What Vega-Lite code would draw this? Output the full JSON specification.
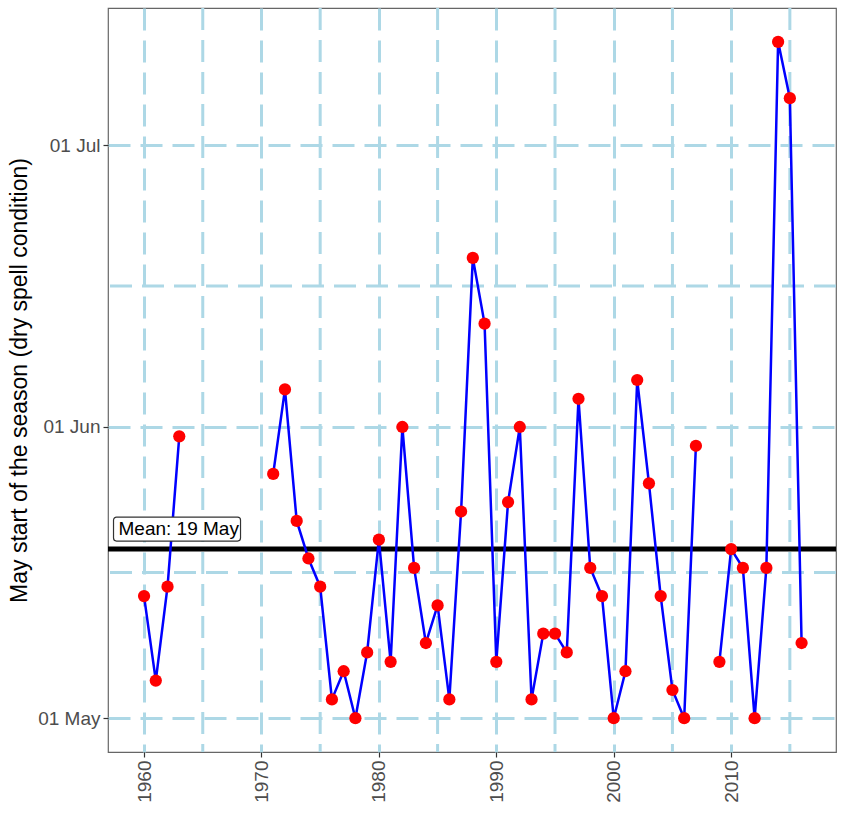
{
  "$schema": "https://vega.github.io/schema/vega-lite/v6.json",
  "width": 728,
  "height": 744,
  "autosize": "none",
  "padding": {"left": 108, "top": 8, "right": 6, "bottom": 69},
  "background": "white",
  "config": {
    "font": "Liberation Sans",
    "view": {"stroke": "#666666", "strokeWidth": 1.2},
    "axis": {
      "labelFont": "Liberation Sans",
      "titleFont": "Liberation Sans",
      "labelColor": "#4D4D4D",
      "labelFontSize": 19,
      "tickColor": "#333333",
      "tickSize": 5,
      "tickWidth": 1.2,
      "domain": false,
      "grid": true,
      "gridColor": "#ADD8E6",
      "gridWidth": 3,
      "gridDash": [22, 10],
      "gridOpacity": 1
    }
  },
  "datasets": {
    "season": [
      {"year": 1960, "start": "2001-05-14"},
      {"year": 1961, "start": "2001-05-05"},
      {"year": 1962, "start": "2001-05-15"},
      {"year": 1963, "start": "2001-05-31"},
      {"year": 1964, "start": null},
      {"year": 1970, "start": null},
      {"year": 1971, "start": "2001-05-27"},
      {"year": 1972, "start": "2001-06-05"},
      {"year": 1973, "start": "2001-05-22"},
      {"year": 1974, "start": "2001-05-18"},
      {"year": 1975, "start": "2001-05-15"},
      {"year": 1976, "start": "2001-05-03"},
      {"year": 1977, "start": "2001-05-06"},
      {"year": 1978, "start": "2001-05-01"},
      {"year": 1979, "start": "2001-05-08"},
      {"year": 1980, "start": "2001-05-20"},
      {"year": 1981, "start": "2001-05-07"},
      {"year": 1982, "start": "2001-06-01"},
      {"year": 1983, "start": "2001-05-17"},
      {"year": 1984, "start": "2001-05-09"},
      {"year": 1985, "start": "2001-05-13"},
      {"year": 1986, "start": "2001-05-03"},
      {"year": 1987, "start": "2001-05-23"},
      {"year": 1988, "start": "2001-06-19"},
      {"year": 1989, "start": "2001-06-12"},
      {"year": 1990, "start": "2001-05-07"},
      {"year": 1991, "start": "2001-05-24"},
      {"year": 1992, "start": "2001-06-01"},
      {"year": 1993, "start": "2001-05-03"},
      {"year": 1994, "start": "2001-05-10"},
      {"year": 1995, "start": "2001-05-10"},
      {"year": 1996, "start": "2001-05-08"},
      {"year": 1997, "start": "2001-06-04"},
      {"year": 1998, "start": "2001-05-17"},
      {"year": 1999, "start": "2001-05-14"},
      {"year": 2000, "start": "2001-05-01"},
      {"year": 2001, "start": "2001-05-06"},
      {"year": 2002, "start": "2001-06-06"},
      {"year": 2003, "start": "2001-05-26"},
      {"year": 2004, "start": "2001-05-14"},
      {"year": 2005, "start": "2001-05-04"},
      {"year": 2006, "start": "2001-05-01"},
      {"year": 2007, "start": "2001-05-30"},
      {"year": 2008, "start": null},
      {"year": 2009, "start": "2001-05-07"},
      {"year": 2010, "start": "2001-05-19"},
      {"year": 2011, "start": "2001-05-17"},
      {"year": 2012, "start": "2001-05-01"},
      {"year": 2013, "start": "2001-05-17"},
      {"year": 2014, "start": "2001-07-12"},
      {"year": 2015, "start": "2001-07-06"},
      {"year": 2016, "start": "2001-05-09"}
    ],
    "minorX": [{"year": 1965}, {"year": 1975}, {"year": 1985}, {"year": 1995}, {"year": 2005}, {"year": 2015}],
    "minorY": [{"start": "2001-05-16T12:00:00Z"}, {"start": "2001-06-16T00:00:00Z"}],
    "mean": [{"year": 1957.4, "start": "2001-05-19", "label": "Mean: 19 May"}]
  },
  "encoding": {
    "x": {
      "field": "year",
      "type": "quantitative",
      "scale": {"domain": [1956.93, 2018.93], "nice": false, "zero": false},
      "axis": {
        "title": null,
        "values": [1960, 1970, 1980, 1990, 2000, 2010],
        "format": "d",
        "labelAngle": 270,
        "labelAlign": "right",
        "labelBaseline": "middle",
        "labelPadding": 3
      }
    },
    "y": {
      "field": "start",
      "type": "temporal",
      "scale": {
        "type": "utc",
        "domain": ["2001-04-27T09:36:00Z", "2001-07-15T14:24:00Z"],
        "nice": false
      },
      "axis": {
        "title": "May start of the season (dry spell condition)",
        "titleFontSize": 23,
        "titleFontWeight": "normal",
        "titleColor": "black",
        "titlePadding": 6,
        "values": [
          {"year": 2001, "month": 5, "date": 1, "utc": true},
          {"year": 2001, "month": 6, "date": 1, "utc": true},
          {"year": 2001, "month": 7, "date": 1, "utc": true}
        ],
        "format": "%d %b",
        "labelPadding": 3
      }
    }
  },
  "layer": [
    {
      "data": {"name": "minorX"},
      "mark": {"type": "rule", "color": "#ADD8E6", "strokeWidth": 3, "strokeDash": [22, 10]},
      "encoding": {"x": {"field": "year", "type": "quantitative"}, "y": null}
    },
    {
      "data": {"name": "minorY"},
      "mark": {"type": "rule", "color": "#ADD8E6", "strokeWidth": 3, "strokeDash": [22, 10]},
      "encoding": {"x": null, "y": {"field": "start", "type": "temporal"}}
    },
    {
      "data": {"name": "mean"},
      "mark": {"type": "rule", "color": "black", "strokeWidth": 5},
      "encoding": {"x": null}
    },
    {
      "data": {"name": "season"},
      "mark": {"type": "line", "color": "#0000FF", "strokeWidth": 2.5, "invalid": "break-paths-filter-domains"},
      "encoding": {"order": {"field": "year", "type": "quantitative"}}
    },
    {
      "data": {"name": "season"},
      "transform": [{"filter": "datum.start != null"}],
      "mark": {"type": "circle", "color": "#FF0000", "opacity": 1, "size": 150}
    },
    {
      "data": {"name": "mean"},
      "mark": {"type": "rect", "fill": "white", "stroke": "#333333", "strokeWidth": 1.2, "cornerRadius": 3, "x2Offset": 127, "yOffset": -8, "y2Offset": -32},
      "encoding": {"x2": {"field": "year"}, "y2": {"field": "start"}}
    },
    {
      "data": {"name": "mean"},
      "mark": {"type": "text", "align": "left", "baseline": "middle", "dx": 5, "dy": -20, "fontSize": 19, "color": "black", "font": "Liberation Sans"},
      "encoding": {"text": {"field": "label"}}
    }
  ]
}
